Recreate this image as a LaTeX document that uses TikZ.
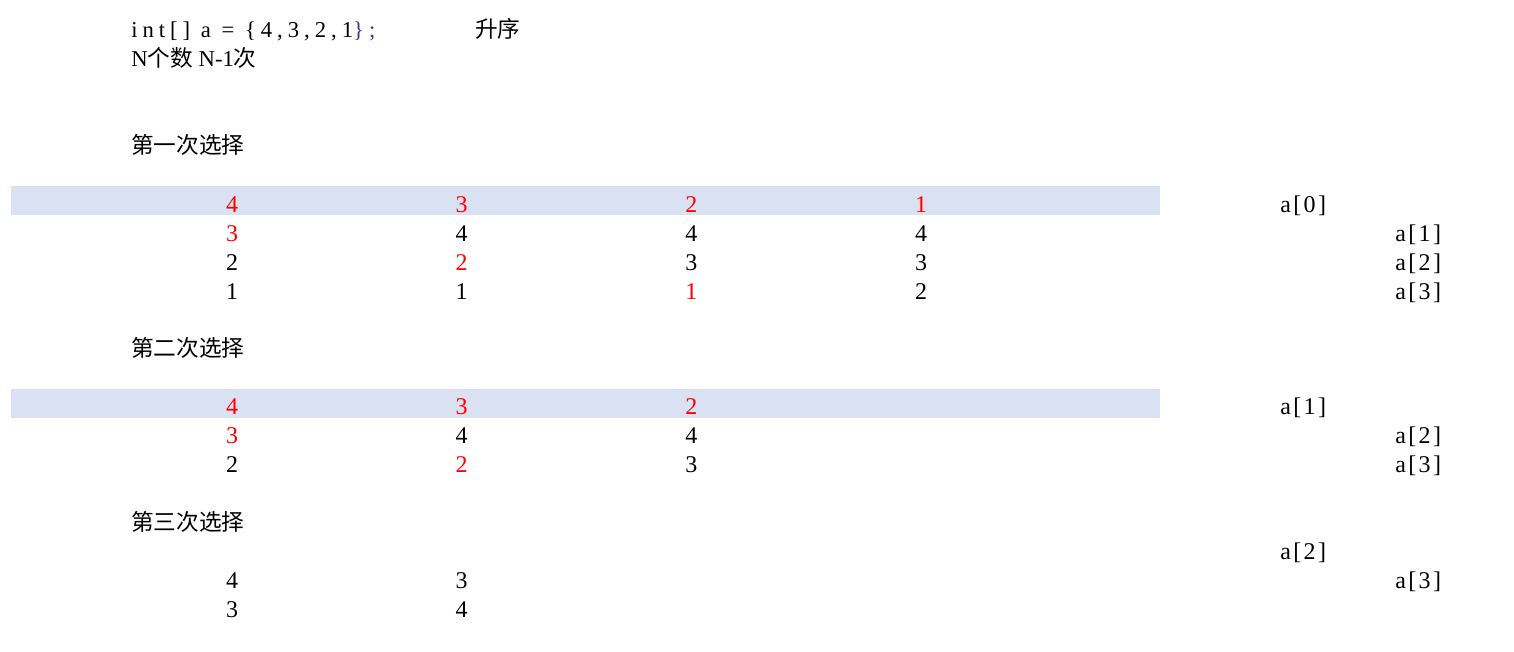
\documentclass[tikz,border=0pt]{standalone}
\usepackage{fontspec}
\setmainfont{Liberation Serif}
\newfontfamily\cjk{Noto Sans CJK SC}
\newfontfamily\codefont[LetterSpace=22]{Liberation Serif}
\newfontfamily\idxfont[LetterSpace=10]{Liberation Serif}
\usetikzlibrary{positioning}
\definecolor{bandblue}{HTML}{D9E1F2}
\definecolor{codeblue}{HTML}{2E3F8F}

\begin{document}
\begin{tikzpicture}[x=0.75pt,y=-0.75pt,
 txt/.style={anchor=base west,inner sep=0pt,font=\codefont\fontsize{17}{19}\selectfont},
 plain/.style={anchor=base west,inner sep=0pt,font=\fontsize{17}{19}\selectfont},
 num/.style={anchor=base,inner sep=0pt,font=\fontsize{18}{20}\selectfont},
 idx/.style={anchor=base west,inner sep=0pt,font=\idxfont\fontsize{18}{20}\selectfont},
 head/.style={anchor=base west,inner sep=0pt,font=\cjk\fontsize{17}{19}\selectfont},
 band/.style={fill=bandblue,draw=none}]
\useasboundingbox (0,0) rectangle (1514,651);
% header lines
\node[txt] (code) at (131,37) {int[] a = \{4,3,2,1\textcolor{codeblue}{\};}};
\node[head] (order) at (475,37) {升序};
\node[plain] (count) at (131,66) {N{\cjk\fontsize{17}{19}\selectfont 个数} N-1{\cjk\fontsize{17}{19}\selectfont 次}};
% highlighted first rows
\fill[band] (11,186) rectangle (1160,215);
\fill[band] (11,389) rectangle (1160,418);
% pass 1
\node[head] (pass1) at (131,153) {第一次选择};
\foreach \row [count=\j] in {{4/red,3/red,2/red,1/red},{3/red,4/black,4/black,4/black},{2/black,2/red,3/black,3/black},{1/black,1/black,1/red,2/black}}
 \foreach \v/\c [count=\i] in \row
  \node[num,text=\c] (pa\j\i) at ({232+229.7*(\i-1)},{212+29*(\j-1)}) {\v};
\node[idx] (ia0) at (1280,212) {a[0]};
\node[idx] (ia1) at (1395,241) {a[1]};
\node[idx] (ia2) at (1395,270) {a[2]};
\node[idx] (ia3) at (1395,299) {a[3]};
% pass 2
\node[head] (pass2) at (131,356) {第二次选择};
\foreach \row [count=\j] in {{4/red,3/red,2/red},{3/red,4/black,4/black},{2/black,2/red,3/black}}
 \foreach \v/\c [count=\i] in \row
  \node[num,text=\c] (pb\j\i) at ({232+229.7*(\i-1)},{414+29*(\j-1)}) {\v};
\node[idx] (ib1) at (1280,414) {a[1]};
\node[idx] (ib2) at (1395,443) {a[2]};
\node[idx] (ib3) at (1395,472) {a[3]};
% pass 3
\node[head] (pass3) at (131,530) {第三次选择};
\foreach \row [count=\j] in {{4/black,3/black},{3/black,4/black}}
 \foreach \v/\c [count=\i] in \row
  \node[num,text=\c] (pc\j\i) at ({232+229.7*(\i-1)},{588+29*(\j-1)}) {\v};
\node[idx] (ic2) at (1280,559) {a[2]};
\node[idx] (ic3) at (1395,588) {a[3]};
\end{tikzpicture}
\end{document}
